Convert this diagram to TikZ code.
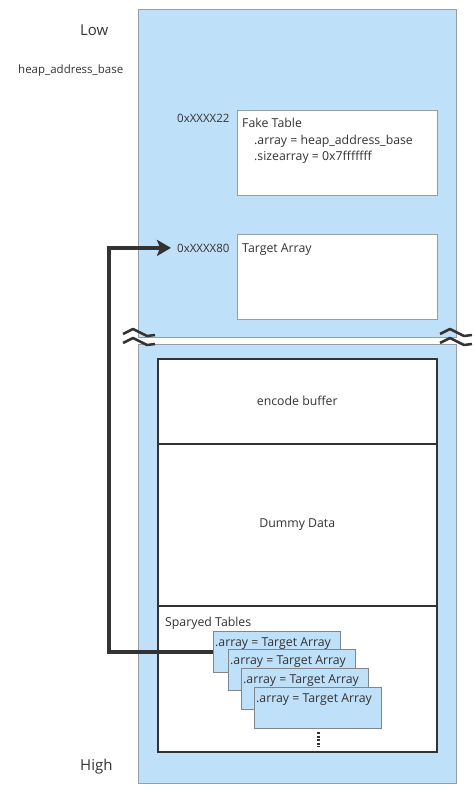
\documentclass[tikz,border=0pt]{standalone}
\usepackage{fontspec}
\setmainfont{Open Sans}
\usetikzlibrary{arrows.meta}
\definecolor{memblue}{RGB}{191,224,249}
\definecolor{memgrey}{RGB}{150,158,166}
\definecolor{memdark}{RGB}{51,51,51}

\tikzset{
    region/.style={draw=memgrey, fill=memblue, line width=1pt},
    chunk/.style={draw=memdark, fill=white, line width=1.5pt, anchor=north west,
        minimum width=279pt, inner sep=0pt, text=memdark, font=\fontsize{12.3}{14}\selectfont},
    fakebox/.style={draw=memgrey, fill=white, line width=1pt, anchor=north west,
        minimum width=200pt, minimum height=85pt, inner sep=0pt},
    spraybox/.style={draw=memgrey!85!black, fill=memblue, line width=1pt, anchor=north west,
        minimum width=127pt, minimum height=41pt, inner sep=0pt},
    txt/.style={text=memdark, inner sep=0pt, anchor=base west, font=\fontsize{12.3}{14}\selectfont},
    breakmark/.style={draw=memdark, line width=2.5pt, line join=round},
    link/.style={draw=memdark, line width=4pt, -{Stealth[length=14pt,width=16pt,inset=3pt]}}
}

\begin{document}
\begin{tikzpicture}[x=1pt, y=-1pt]
    \useasboundingbox (0,0) rectangle (475,797);

    % memory regions
    \path[region] (138,10) rectangle (456,337);
    \path[region] (138,344) rectangle (456,783);

    % side labels
    \node[txt, font=\fontsize{15}{18}\selectfont] (low) at (80,36) {Low};
    \node[txt, font=\fontsize{11.5}{14}\selectfont] (heapbase) at (18,74) {heap\_address\_base};
    \node[txt, font=\fontsize{15}{18}\selectfont] (high) at (80,770) {High};

    % fake table
    \node[fakebox] (fake) at (237,110) {};
    \node[txt, font=\fontsize{11.5}{14}\selectfont] (addr22) at (177,123) {0xXXXX22};
    \node[txt] (fakettl) at (242,128) {Fake Table};
    \node[txt] (fakearr) at (254,144) {.array = heap\_address\_base};
    \node[txt] (fakesize) at (254,160) {.sizearray = 0x7fffffff};

    % target array
    \node[fakebox] (target) at (237,234) {};
    \node[txt, font=\fontsize{11.5}{14}\selectfont] (addr80) at (177,252) {0xXXXX80};
    \node[txt] (targetttl) at (242,252) {Target Array};

    % heap chunks
    \node[chunk, minimum height=85pt] (encode) at (157,358) {encode buffer};
    \node[chunk, minimum height=162pt] (dummy) at (157,443) {Dummy Data};
    \node[chunk, minimum height=146pt] (sprayed) at (157,605) {};
    \node[txt] (spraylbl) at (165,626) {Sparyed Tables};

    % sprayed tables
    \foreach \i/\dx/\dy in {1/213/631, 2/228/649, 3/241/668, 4/254/687} {
        \node[spraybox] (spray\i) at (\dx,\dy) {};
        \node[txt] (spraytxt\i) at (\dx+2,\dy+15) {.array = Target Array};
    }
    \draw[memdark, line width=3pt, dash pattern=on 2pt off 1.6pt] (318,732) -- (318,747);

    % pointer back to target array
    \draw[link, shorten >=6pt] (spray1.west) -- ++(-104,0) |- (addr80.west);

    % break marks
    \foreach \bx in {0,317} {
        \draw[breakmark] (\bx+123,334) -- (\bx+133,329) -- (\bx+147,336) -- (\bx+155,335);
        \draw[breakmark] (\bx+123,343) -- (\bx+133,338) -- (\bx+147,345) -- (\bx+155,344);
    }
\end{tikzpicture}
\end{document}
